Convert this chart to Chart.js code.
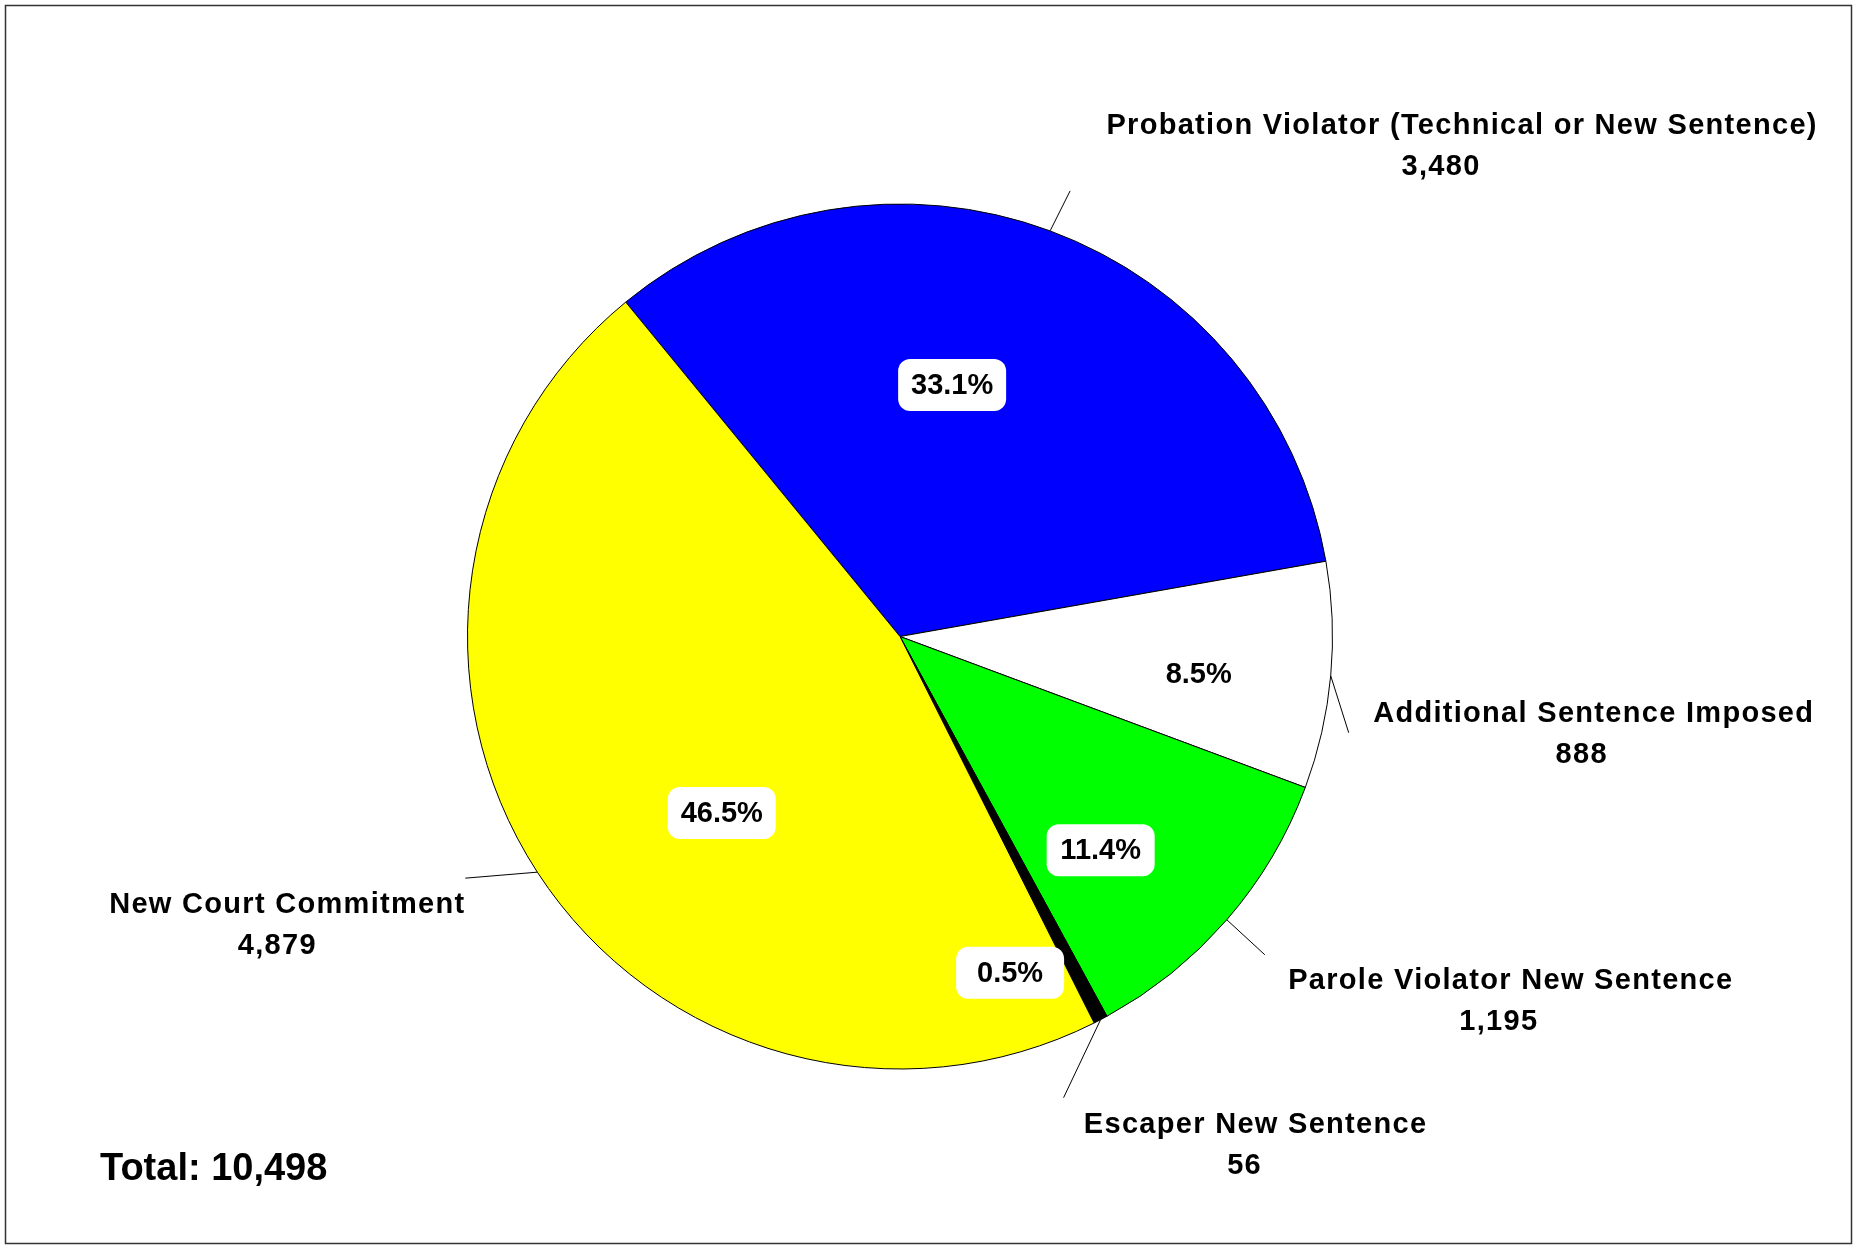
<!DOCTYPE html>
<html>
<head>
<meta charset="utf-8">
<script src="https://cdn.jsdelivr.net/npm/chart.js@4.4.1/dist/chart.umd.min.js"></script>
<style>
  html, body { margin: 0; padding: 0; background: #fff; }
  #wrap { width: 1860px; height: 1249px; }
</style>
</head>
<body>
<div id="wrap"><canvas id="pie" width="1860" height="1249"></canvas></div>
<script>
    // Admissions by type
    const categories = [
        'Probation Violator (Technical or New Sentence)',
        'Additional Sentence Imposed',
        'Parole Violator New Sentence',
        'Escaper New Sentence',
        'New Court Commitment'
    ];
    const counts = [3480, 888, 1195, 56, 4879];
    const sliceColors = ['#0000FF', '#FFFFFF', '#00FF00', '#000000', '#FFFF00'];

    const total = counts.reduce((a, b) => a + b, 0);
    const fmt = n => n.toLocaleString('en-US');

    // label layout (offsets from the slice's outer edge at its mid angle)
    const leaderEnds = [[20, -40], [18, 57], [38, 35], [-37, 78], [-72, 6]];
    const nameOffsets = [[412, -105], [263, 38], [284, 61], [155, 105], [-250, 33]];
    const numberShift = [-21, -12, -12, -11, -10];
    // percent boxes: [angle shift in degrees, fraction of radius]
    const pctPlaces = [[-8.6, 0.594], [1.9, 0.696], [5.9, 0.678], [9.5, 0.818], [-11.7, 0.58]];

    const FONT = '"Liberation Sans", Arial, Helvetica, sans-serif';

    function roundRect(ctx, x, y, w, h, r) {
        ctx.beginPath();
        ctx.moveTo(x + r, y);
        ctx.arcTo(x + w, y, x + w, y + h, r);
        ctx.arcTo(x + w, y + h, x, y + h, r);
        ctx.arcTo(x, y + h, x, y, r);
        ctx.arcTo(x, y, x + w, y, r);
        ctx.closePath();
    }

    const sliceLabels = {
        id: 'sliceLabels',
        afterDatasetsDraw(chart) {
            const ctx = chart.ctx;
            const meta = chart.getDatasetMeta(0);
            ctx.save();
            meta.data.forEach((arc, i) => {
                const p = arc.getProps(['x', 'y', 'startAngle', 'endAngle', 'outerRadius'], true);
                const mid = (p.startAngle + p.endAngle) / 2;
                const ex = p.x + Math.cos(mid) * p.outerRadius;
                const ey = p.y + Math.sin(mid) * p.outerRadius;

                // leader line
                ctx.strokeStyle = '#000';
                ctx.lineWidth = 1;
                ctx.beginPath();
                ctx.moveTo(ex, ey);
                ctx.lineTo(ex + leaderEnds[i][0], ey + leaderEnds[i][1]);
                ctx.stroke();

                // category name + count
                const lx = ex + nameOffsets[i][0];
                const ly = ey + nameOffsets[i][1];
                ctx.fillStyle = '#000';
                ctx.font = 'bold 29px ' + FONT;
                ctx.letterSpacing = '1.3px';
                ctx.textAlign = 'center';
                ctx.textBaseline = 'middle';
                ctx.fillText(categories[i], lx, ly);
                ctx.fillText(fmt(counts[i]), lx + numberShift[i], ly + 41);

                // percent box
                const a = mid + pctPlaces[i][0] * Math.PI / 180;
                const r = pctPlaces[i][1] * p.outerRadius;
                const px = p.x + Math.cos(a) * r;
                const py = p.y + Math.sin(a) * r;
                ctx.fillStyle = '#FFFFFF';
                roundRect(ctx, px - 54, py - 26, 108, 52, 12);
                ctx.fill();
                ctx.fillStyle = '#000';
                ctx.letterSpacing = '0px';
                ctx.fillText((counts[i] / total * 100).toFixed(1) + '%', px, py + 1);
            });

            // total
            ctx.font = 'bold 38px ' + FONT;
            ctx.letterSpacing = '0px';
            ctx.textAlign = 'left';
            ctx.textBaseline = 'middle';
            ctx.fillText('Total: ' + fmt(total), 100, 1170);

            // frame
            ctx.strokeStyle = '#333';
            ctx.lineWidth = 1.5;
            ctx.strokeRect(5.5, 5.5, 1846, 1238);
            ctx.restore();
        }
    };

    new Chart(document.getElementById('pie'), {
        type: 'pie',
        data: {
            labels: categories,
            datasets: [{
                data: counts,
                backgroundColor: sliceColors,
                borderColor: '#000',
                borderWidth: 1
            }]
        },
        options: {
            responsive: false,
            animation: false,
            devicePixelRatio: 1,
            rotation: -39.36,
            layout: { padding: { left: 467, right: 527, top: 202, bottom: 178 } },
            plugins: {
                legend: { display: false },
                tooltip: { enabled: false }
            }
        },
        plugins: [sliceLabels]
    });
</script>
</body>
</html>
